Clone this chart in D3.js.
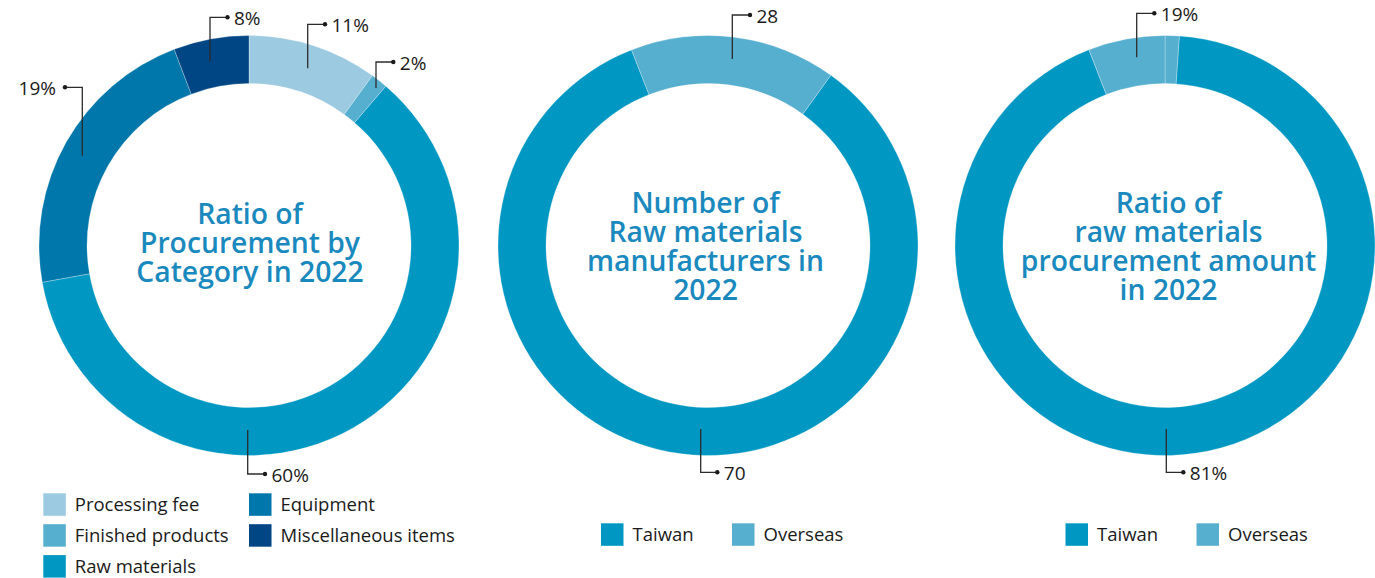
<!DOCTYPE html>
<html><head><meta charset="utf-8">
<script src="https://cdn.jsdelivr.net/npm/d3@7"></script>
<style>
html,body{margin:0;padding:0;background:#fff;}
svg{display:block;font-family:"Open Sans","Noto Sans",sans-serif;}
</style></head>
<body><svg id="c" width="1375" height="578"></svg>
<script>
// ---- data (arc shares; label texts as printed) ----
const cat1Names  = ["Processing fee","Finished products","Raw materials","Equipment","Miscellaneous items"];
const cat1Values = [10.0, 1.3, 60.9, 22.0, 5.8];
const cat1Labels = ["11%","2%","60%","19%","8%"];

const cat2Names  = ["Overseas","Taiwan"];
const cat2Values = [15.9, 84.1];
const cat2Labels = ["28","70"];

const cat3Names  = ["Overseas","Taiwan","Overseas"];
const cat3Values = [1.1, 93.0, 5.9];
const cat3Labels = ["19%","81%"];

const title1 = ["Ratio of","Procurement by","Category in 2022"];
const title2 = ["Number of","Raw materials","manufacturers in","2022"];
const title3 = ["Ratio of","raw materials","procurement amount","in 2022"];

const legend1 = [["Processing fee","Finished products","Raw materials"],["Equipment","Miscellaneous items"]];
const legend23 = ["Taiwan","Overseas"];

const color = d3.scaleOrdinal()
  .domain(["Processing fee","Finished products","Raw materials","Equipment","Miscellaneous items","Taiwan","Overseas"])
  .range(["#9ccae1","#57afd0","#0097c2","#0077ab","#004584","#0097c2","#57afd0"]);

const svg = d3.select("#c");
const R = 210, r = 162, CY = 245.5;
const arc = d3.arc().innerRadius(r).outerRadius(R);
const deg = Math.PI/180;

function donut(cx, names, values, startDeg, title, tdx, tdy, notes){
  const g = svg.append("g").attr("transform",`translate(${cx},${CY})`);
  const pie = d3.pie().sort(null).value(d=>d.v)
     .startAngle(startDeg*deg).endAngle(startDeg*deg+2*Math.PI);
  const data = names.map((n,i)=>({n, v:values[i]}));
  g.selectAll("path.s").data(pie(data)).join("path").attr("class","s")
    .attr("d",arc).attr("fill",d=>color(d.data.n))
    .attr("stroke","rgba(255,255,255,0.35)").attr("stroke-width",0.8);
  const lh = 29.3, n = title.length;
  g.append("text").attr("text-anchor","middle").attr("fill","#1a89be")
    .attr("font-size",28.3).attr("font-weight",600)
    .selectAll("tspan").data(title).join("tspan")
    .attr("x",tdx).attr("y",(d,i)=>(i-(n-1)/2)*lh+tdy).text(d=>d);
  notes.forEach(o=>{
    const [x0,y0,ye,h,t] = o;
    g.append("path").attr("d",`M${x0},${y0}V${ye}H${x0+h}`)
      .attr("fill","none").attr("stroke","#2b2b2b").attr("stroke-width",1.3);
    g.append("circle").attr("cx",x0+h).attr("cy",ye).attr("r",2.2).attr("fill","#1a1a1a");
    g.append("text").attr("x",h>0?x0+h+6.5:x0+h-9).attr("y",ye+8)
      .attr("text-anchor",h>0?"start":"end").attr("font-size",19).attr("fill","#1a1a1a").text(t);
  });
}

// annotation layout: [startX, startY, elbowY, horizontal length, text] relative to centre
donut(249, cat1Names, cat1Values, 0, title1, 1, 7.5, [
  [-39, -183.8, -228.2, 17.5, cat1Labels[4]],
  [58.7, -177.2, -221.2, 17.3, cat1Labels[0]],
  [127, -157.5, -183.5, 17.3, cat1Labels[1]],
  [-166.7, -89.8, -158.2, -17.3, cat1Labels[3]],
  [-1.3, 184.5, 228.5, 17.3, cat1Labels[2]]
]);
donut(708, cat2Names, cat2Values, -21.4, title2, -2.5, 11, [
  [24.3, -186.5, -230.5, 17.7, cat2Labels[0]],
  [-7.3, 183.5, 226.8, 16.6, cat2Labels[1]]
]);
donut(1165, cat3Names, cat3Values, 0, title3, 3.5, 11, [
  [-28.3, -188.2, -232.2, 17.6, cat3Labels[0]],
  [1.3, 183.5, 226.8, 17, cat3Labels[1]]
]);

// legends
function legendItem(x, y, name){
  svg.append("rect").attr("x",x).attr("y",y).attr("width",22.5).attr("height",22.5).attr("fill",color(name));
  svg.append("text").attr("x",x+31.5).attr("y",y+18).attr("font-size",18.5).attr("fill","#1a1a1a").text(name);
}
legend1[0].forEach((n,i)=>legendItem(43.3, 493.3+i*30.9, n));
legend1[1].forEach((n,i)=>legendItem(249, 493.3+i*30.9, n));
legend23.forEach((n,i)=>legendItem(601+i*131, 523.3, n));
legend23.forEach((n,i)=>legendItem(1065.5+i*131, 523.3, n));
</script></body></html>
